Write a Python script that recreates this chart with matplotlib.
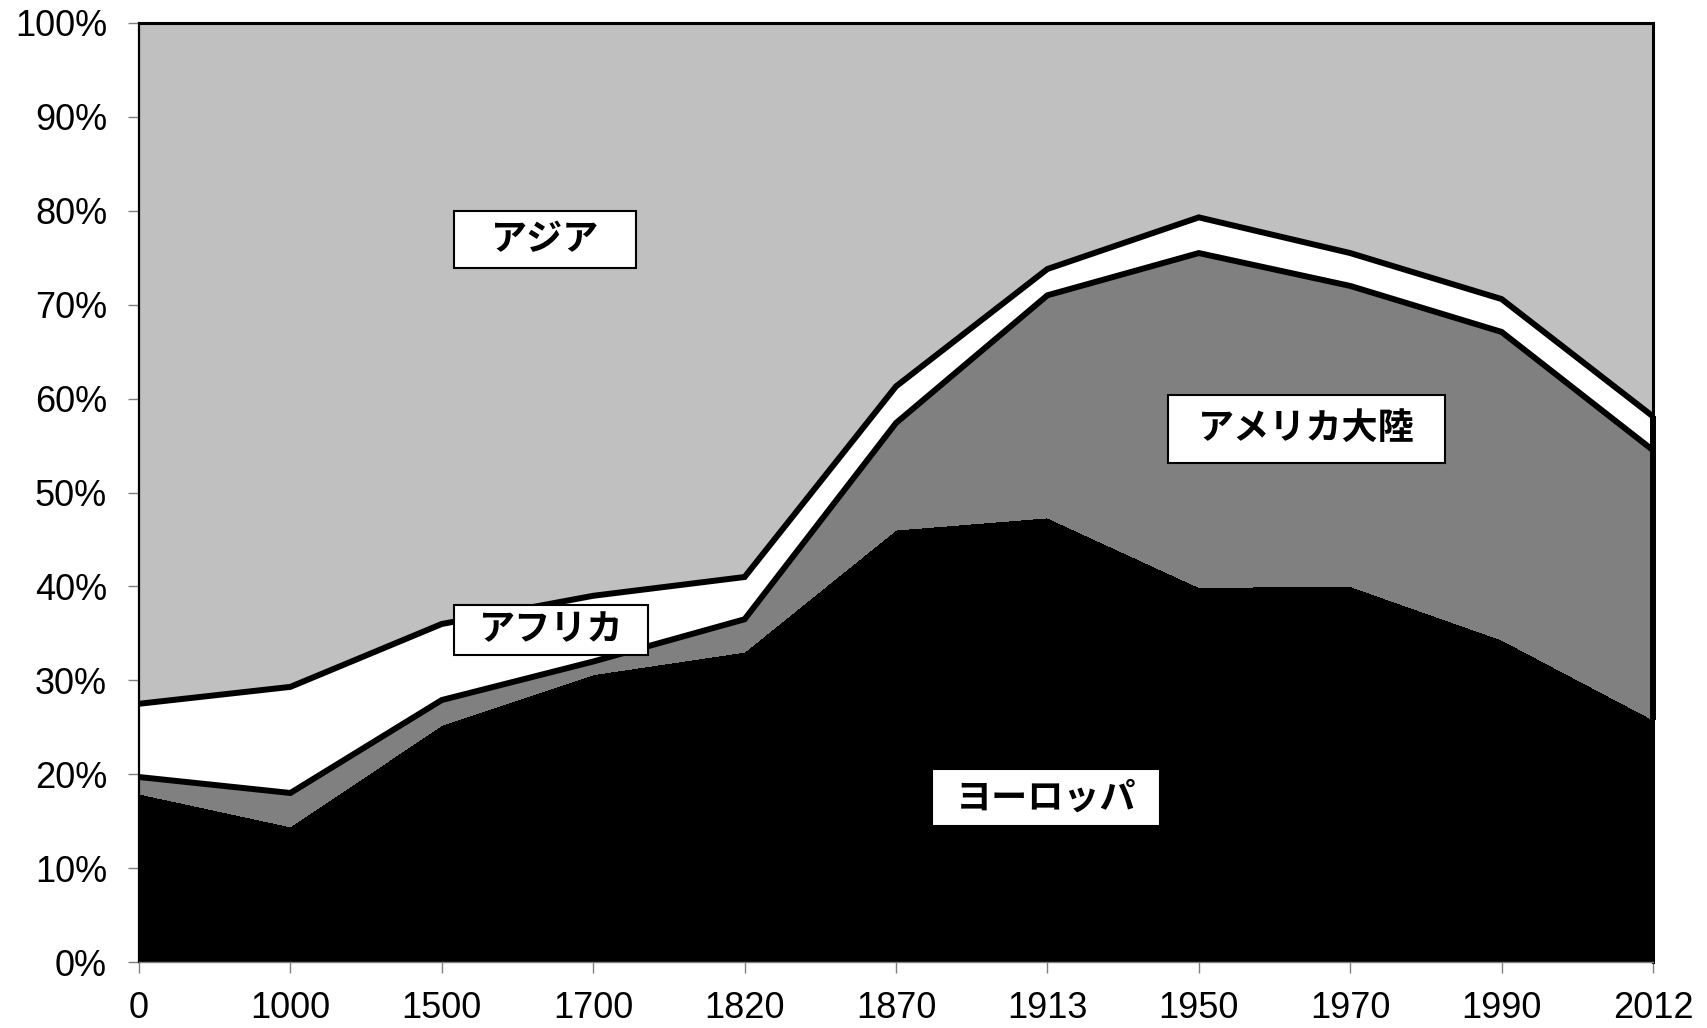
import numpy as np
import matplotlib
matplotlib.use('Agg')
import matplotlib.pyplot as plt
from matplotlib.patches import Rectangle

plt.rcParams['font.family'] = ['Liberation Sans', 'Noto Sans CJK JP', 'DejaVu Sans']

# share of world GDP (%) by region
years = ['0', '1000', '1500', '1700', '1820', '1870', '1913', '1950', '1970', '1990', '2012']
europe = [17.9, 14.4, 25.2, 30.6, 33.0, 46.0, 47.3, 39.9, 40.0, 34.3, 25.8]
americas = [1.8, 3.6, 2.7, 1.4, 3.5, 11.4, 23.7, 35.6, 32.0, 32.8, 28.7]
africa = [7.8, 11.3, 8.1, 7.0, 4.5, 3.9, 2.8, 3.8, 3.5, 3.5, 3.6]
asia = [72.5, 70.7, 64.0, 61.0, 59.0, 38.7, 26.2, 20.7, 24.5, 29.4, 41.9]

names = ['ヨーロッパ', 'アメリカ大陸', 'アフリカ', 'アジア']
colors = ['#000000', '#808080', '#ffffff', '#c0c0c0']

x = np.arange(len(years))
W, H = 1708, 1028
L, R, T, B = 139, 1653, 23, 962

fig = plt.figure(figsize=(W/100, H/100), dpi=100)
ax = fig.add_axes([L/W, 1 - B/H, (R - L)/W, (B - T)/H])

polys = ax.stackplot(x, europe, americas, africa, asia, colors=colors, linewidth=0)
for p in polys:
    p.set_edgecolor('none')
    p.set_antialiased(False)

am_top = np.array(europe) + np.array(americas)
af_top = am_top + np.array(africa)

lw = 4.3
ax.plot(x, am_top, color='k', lw=lw, solid_joinstyle='miter', solid_capstyle='butt', zorder=3)
ax.plot(x, af_top, color='k', lw=lw, solid_joinstyle='miter', solid_capstyle='butt', zorder=3)
ax.plot([x[-1], x[-1]], [europe[-1], af_top[-1]], color='k', lw=lw,
        solid_capstyle='butt', clip_on=False, zorder=3)

ax.set_xlim(0, len(years) - 1)
ax.set_ylim(0, 100)
ax.set_xticks(x)
ax.set_xticklabels(years)
ax.set_yticks(np.arange(0, 101, 10))
ax.set_yticklabels([f'{v}%' for v in range(0, 101, 10)])

ax.spines['top'].set_color('k')
ax.spines['top'].set_linewidth(2.2)
ax.spines['right'].set_color('k')
ax.spines['right'].set_linewidth(2.2)
ax.spines['left'].set_color('k')
ax.spines['left'].set_linewidth(1.6)
ax.spines['bottom'].set_color('#808080')
ax.spines['bottom'].set_linewidth(1)
for s in ax.spines.values():
    s.set_zorder(4)

ax.tick_params(axis='both', color='#808080', length=8, width=1, labelsize=26, direction='out')
ax.tick_params(axis='y', pad=15)
ax.tick_params(axis='x', pad=13)

# region labels: (text index, centre x, centre y, box width px, box height px)
px_x = (R - L) / (len(years) - 1)
px_y = (B - T) / 100
boxes = [(3, 2.68, 76.9, 182, 57),
         (2, 2.72, 35.4, 194, 50),
         (1, 7.71, 56.8, 277, 68),
         (0, 5.99, 17.5, 228, 57)]
for i, cx, cy, bw, bh in boxes:
    w = bw / px_x
    h = bh / px_y
    ax.add_patch(Rectangle((cx - w/2, cy - h/2), w, h, facecolor='white',
                           edgecolor='k', lw=1.5, zorder=5))
    ax.text(cx, cy, names[i], ha='center', va='center', fontsize=26, fontweight='bold',
            family=['Noto Sans CJK JP', 'DejaVu Sans'], zorder=6)

fig.savefig('out.png', dpi=100)
